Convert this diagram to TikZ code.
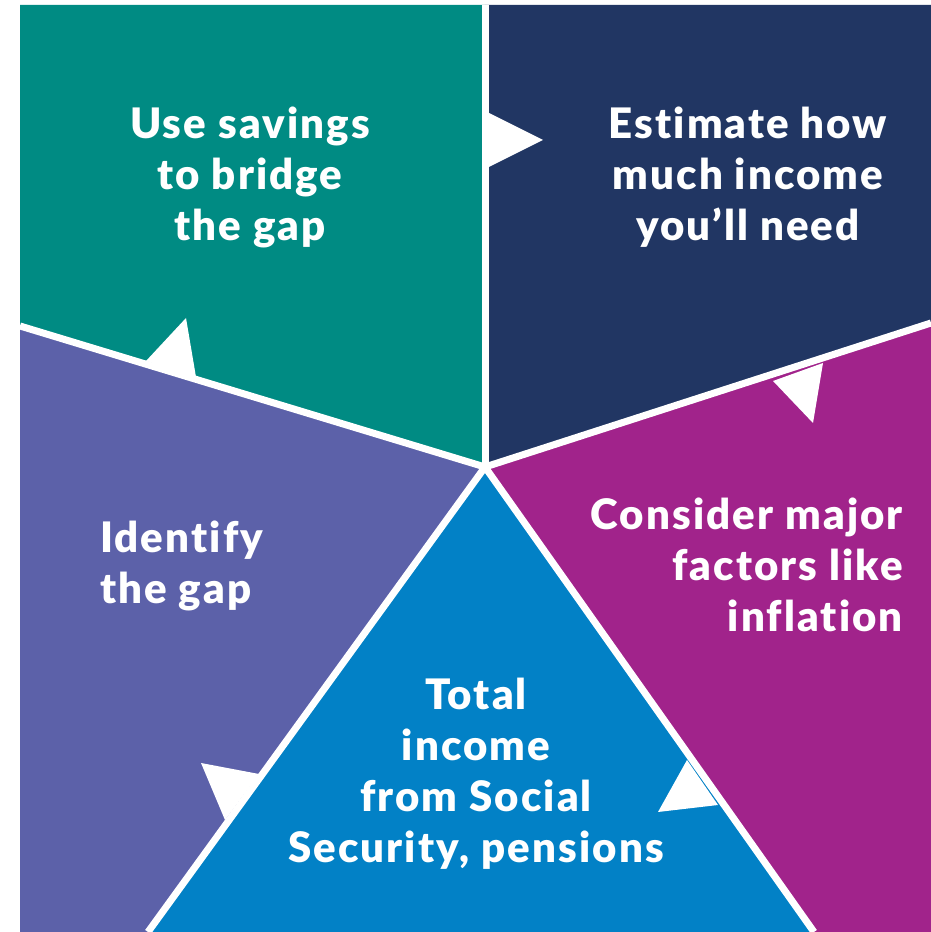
\documentclass[tikz,border=0pt]{standalone}
\usepackage{fontspec}
\setmainfont{Lato}[BoldFont={Lato Black}, BoldFeatures={LetterSpace=5, Ligatures=NoCommon}]
\usetikzlibrary{calc}

\definecolor{savecol}{RGB}{0,139,131}
\definecolor{needcol}{RGB}{33,54,99}
\definecolor{factcol}{RGB}{161,35,139}
\definecolor{totalcol}{RGB}{2,129,198}
\definecolor{gapcol}{RGB}{92,97,169}

\tikzset{
  divider/.style={draw=white, line width=7pt},
  flowtip/.style={fill=white},
  steptext/.style={text=white, inner sep=0pt, font=\fontsize{42}{51}\selectfont\bfseries},
}

\begin{document}
\begin{tikzpicture}[x=1pt,y=1pt]
	\useasboundingbox (0,0) rectangle (931,932);
	% hub and the points where the dividers meet the frame
	\coordinate (c) at (485,465);
	\coordinate (top) at (485,927);
	\coordinate (right) at (931,609);
	\coordinate (botr) at (814,0);
	\coordinate (botl) at (148,0);
	\coordinate (left) at (20,606);

	\fill[savecol] (c) -- (left) -- (20,927) -- (top) -- cycle;
	\fill[needcol] (c) -- (top) -- (931,927) -- (right) -- cycle;
	\fill[factcol] (c) -- (right) -- (931,0) -- (botr) -- cycle;
	\fill[totalcol] (c) -- (botr) -- (botl) -- cycle;
	\fill[gapcol] (c) -- (botl) -- (20,0) -- (left) -- cycle;

	\foreach \e in {top,right,botr,botl,left}
	    \draw[divider] (c) -- (\e);

	% arrow tips, clockwise
	\fill[flowtip] (485,821) -- (543,792) -- (485,763) -- cycle;
	\fill[flowtip] (773,551) -- (813,509) -- (823,569) -- cycle;
	\fill[flowtip] (687,172) -- (658,120) -- (718,127) -- cycle;
	\fill[flowtip] (259,158) -- (201,169) -- (225,112) -- cycle;
	\fill[flowtip] (146,571) -- (186,614) -- (196,555) -- cycle;

	\node[steptext, align=center] (save) at (250,755) {Use savings\\to bridge\\the gap};
	\node[steptext, align=center] (need) at (748,755) {Estimate how\\much income\\you’ll need};
	\node[steptext, align=right, anchor=east] (fact) at (903,367) {Consider major\\factors like\\inflation};
	\node[steptext, align=center] (total) at (476,158) {Total\\income\\from Social\\Security, pensions};
	\node[steptext, align=left, anchor=west] (gap) at (100,366) {Identify\\the gap};
\end{tikzpicture}
\end{document}
